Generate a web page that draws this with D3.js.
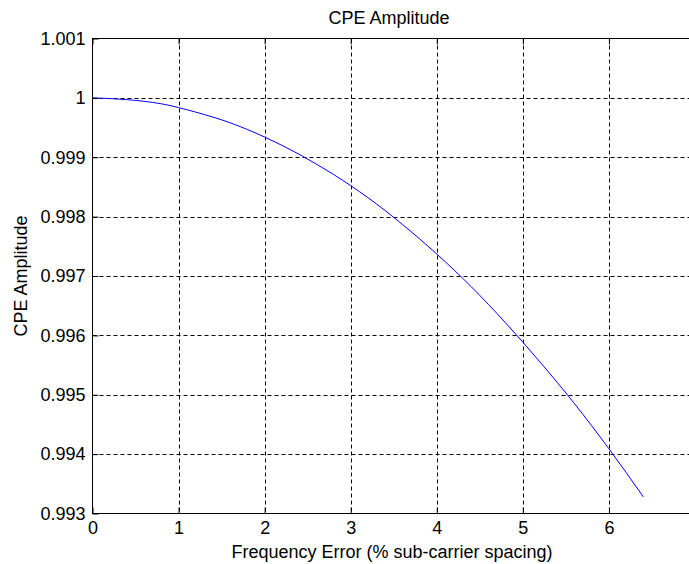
<!DOCTYPE html>
<html><head><meta charset="utf-8">
<script src="https://cdn.jsdelivr.net/npm/d3@7"></script>
<style>body{margin:0;background:#fff;overflow:hidden}svg{display:block}text{font-family:"Liberation Sans",Arial,sans-serif;fill:#000}</style>
</head><body>
<script>
const freqError = [0,0.4,0.8,1.2,1.6,2.0,2.4,2.8,3.2,3.6,4.0,4.4,4.8,5.2,5.6,6.0,6.4];
const amplitude = [1.00000,0.99997,0.99990,0.99976,0.99958,0.99934,0.99905,0.99871,0.99832,0.99787,0.99737,0.99682,0.99621,0.99555,0.99485,0.99409,0.99328];
const xTicks = [0,1,2,3,4,5,6,7];
const yTicks = [0.993,0.994,0.995,0.996,0.997,0.998,0.999,1.000,1.001];
const yTickLabels = ["0.993","0.994","0.995","0.996","0.997","0.998","0.999","1","1.001"];

const W=689,H=564;
const L=92.5,R=695,T=38.5,B=513.5;
const FS="18px";
const svg=d3.select("body").append("svg").attr("width",W).attr("height",H);
const x=d3.scaleLinear().domain([0,7]).range([L,R]);
const y=d3.scaleLinear().domain([0.993,1.001]).range([B,T]);

// grid
const g=svg.append("g").attr("stroke","#000").attr("stroke-width",1).attr("stroke-dasharray","4,3");
g.selectAll(".gx").data(xTicks.slice(1,-1)).join("line")
 .attr("x1",d=>Math.round(x(d))+0.5).attr("x2",d=>Math.round(x(d))+0.5).attr("y1",T).attr("y2",B);
g.selectAll(".gy").data(yTicks.slice(1,-1)).join("line")
 .attr("y1",d=>Math.round(y(d))+0.5).attr("y2",d=>Math.round(y(d))+0.5).attr("x1",L).attr("x2",R);

// curve
svg.append("path").datum(freqError.map((f,i)=>[f,amplitude[i]]))
 .attr("fill","none").attr("stroke","#0000ff").attr("stroke-width",1)
 .attr("d",d3.line().x(d=>x(d[0])).y(d=>y(d[1])).curve(d3.curveMonotoneX));

// box
svg.append("rect").attr("x",L).attr("y",T).attr("width",R-L).attr("height",B-T)
 .attr("fill","none").attr("stroke","#000").attr("stroke-width",1);

// axes (inward ticks)
const ax=svg.append("g").attr("transform",`translate(0,${B})`)
 .call(d3.axisBottom(x).tickValues(xTicks).tickFormat(d3.format("d")).tickSizeInner(-6).tickSizeOuter(0).tickPadding(8));
const axT=svg.append("g").attr("transform",`translate(0,${T})`)
 .call(d3.axisTop(x).tickValues(xTicks).tickFormat("").tickSizeInner(-6).tickSizeOuter(0));
const ay=svg.append("g").attr("transform",`translate(${L},0)`)
 .call(d3.axisLeft(y).tickValues(yTicks).tickFormat((d,i)=>yTickLabels[i]).tickSizeInner(-6).tickSizeOuter(0).tickPadding(7));
[ax,axT,ay].forEach(a=>{a.select(".domain").remove();a.selectAll("line").attr("stroke","#000");
 a.selectAll("text").style("font-size",FS).style("font-family",'"Liberation Sans",Arial,sans-serif').attr("fill","#000");});

svg.append("text").attr("x",389).attr("y",24).attr("text-anchor","middle").style("font-size",FS).text("CPE Amplitude");
svg.append("text").attr("x",392).attr("y",558).attr("text-anchor","middle").style("font-size",FS).text("Frequency Error (% sub-carrier spacing)");
svg.append("text").attr("transform",`translate(27,${(T+B)/2}) rotate(-90)`).attr("text-anchor","middle").style("font-size",FS).text("CPE Amplitude");
</script>
</body></html>
